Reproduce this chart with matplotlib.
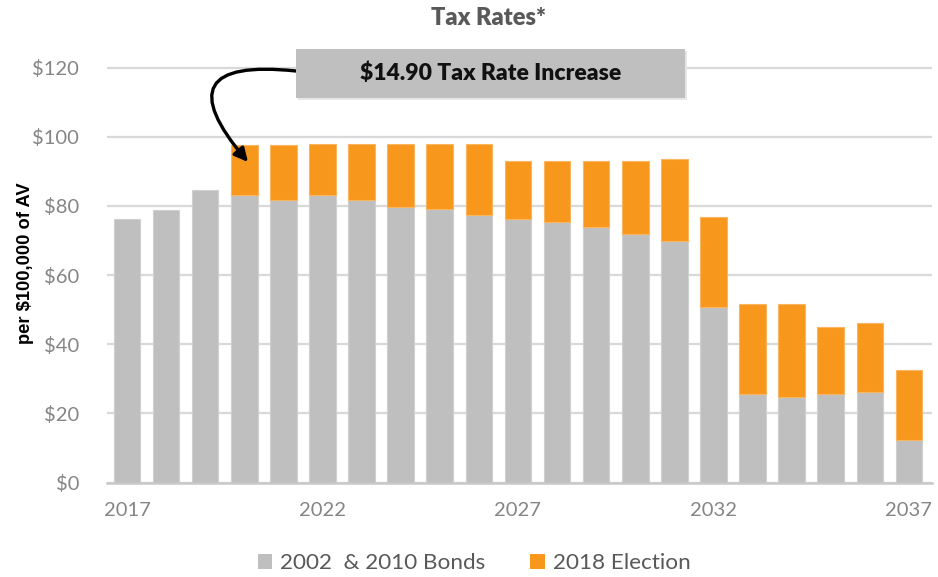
import matplotlib
matplotlib.use("Agg")
import matplotlib.pyplot as plt
from matplotlib.patches import Rectangle, Patch
import numpy as np

years = list(range(2017, 2038))
bonds_2002_2010 = [76.2, 78.8, 84.5, 83.0, 81.7, 83.0, 81.7, 79.6, 79.0, 77.4,
                   76.1, 75.4, 74.0, 72.0, 69.9, 50.8, 25.5, 24.8, 25.5, 26.2, 12.2]
election_2018 = [0, 0, 0, 14.7, 16.0, 14.9, 16.2, 18.3, 18.9, 20.5,
                 16.9, 17.6, 19.0, 21.0, 23.7, 26.0, 26.0, 26.7, 19.6, 19.8, 20.3]
ytick_vals = [0, 20, 40, 60, 80, 100, 120]
ytick_labels = ["$0", "$20", "$40", "$60", "$80", "$100", "$120"]
xtick_years = [2017, 2022, 2027, 2032, 2037]

GRAY = "#BFBFBF"
ORANGE = "#F7981D"
TXT = "#595959"

W, H = 938, 577
fig = plt.figure(figsize=(W / 100, H / 100), dpi=100)
left, right = 107 / W, 932 / W
bottom = 1 - 482.5 / H
top = 1 - (482.5 - 125 * 3.458) / H
ax = fig.add_axes([left, bottom, right - left, top - bottom])

x = np.arange(len(years))
ax.bar(x, bonds_2002_2010, width=0.68, color=GRAY, edgecolor="#D0D0D0", linewidth=0.8, zorder=3)
ax.bar(x, election_2018, width=0.68, bottom=bonds_2002_2010, color=ORANGE,
       edgecolor="#F9B560", linewidth=[0.8 if v > 0 else 0 for v in election_2018], zorder=3)

ax.set_xlim(-0.51, 20.59)
ax.set_ylim(0, 125)
ax.set_yticks(ytick_vals)
ax.set_yticklabels(ytick_labels)
ax.set_xticks([years.index(y) for y in xtick_years])
ax.set_xticklabels([str(y) for y in xtick_years])
ax.yaxis.grid(True, color="#D9D9D9", linewidth=1.6, zorder=0)
ax.set_axisbelow(True)
for s in ["top", "right", "left"]:
    ax.spines[s].set_visible(False)
ax.spines["bottom"].set_color("#C8C8C8")
ax.spines["bottom"].set_linewidth(1.8)
ax.spines["bottom"].set_zorder(4)
ax.tick_params(axis="both", length=0, labelsize=14.5, labelcolor="#858585")
ax.tick_params(axis="y", pad=20)
ax.tick_params(axis="x", pad=14)
for lab in ax.get_xticklabels() + ax.get_yticklabels():
    lab.set_family("Lato")

fig.text(26 / W, 1 - 263.5 / H, "per $100,000 of AV", rotation=90, ha="center", va="center",
         fontsize=13.2, fontweight="bold", family="Liberation Sans", color="black")

fig.text(488 / W, 1 - 18 / H, "Tax Rates*", ha="center", va="center", fontsize=17,
         fontweight="heavy", color=TXT, family="Lato")

# annotation box
bx0, bx1, by0, by1 = 296, 685, 49, 98
fig.patches.append(Rectangle((bx0 / W + 0.002, 1 - (by1 + 2) / H), (bx1 - bx0) / W, (by1 - by0) / H,
                             transform=fig.transFigure, facecolor="#E6E6E6", edgecolor="none", zorder=5))
fig.patches.append(Rectangle((bx0 / W, 1 - by1 / H), (bx1 - bx0) / W, (by1 - by0) / H,
                             transform=fig.transFigure, facecolor=GRAY, edgecolor="none", zorder=6))
fig.text((bx0 + bx1) / 2 / W, 1 - 73 / H, "$14.90 Tax Rate Increase", ha="center", va="center",
         fontsize=16.5, fontweight="heavy", color="#111111", family="Lato", zorder=7)

ax.annotate("", xy=(248, H - 162), xycoords="figure pixels",
            xytext=(296, H - 71), textcoords="figure pixels",
            arrowprops=dict(arrowstyle="-|>,head_length=0.8,head_width=0.4", color="black", lw=2.4,
                            connectionstyle="arc3,rad=1.25", shrinkA=0, shrinkB=0),
            annotation_clip=False, zorder=8)

handles = [Patch(facecolor=GRAY, edgecolor="none", label="2002  & 2010 Bonds"),
           Patch(facecolor=ORANGE, edgecolor="none", label="2018 Election")]
leg = fig.legend(handles=handles, loc="center", bbox_to_anchor=(474 / W, 1 - 563 / H), ncol=2,
                 frameon=False, handlelength=0.65, handleheight=0.65, handletextpad=0.35,
                 columnspacing=2.0, prop={"family": "Lato", "size": 16.2})
for t in leg.get_texts():
    t.set_color(TXT)

fig.savefig("out.png", dpi=100)
